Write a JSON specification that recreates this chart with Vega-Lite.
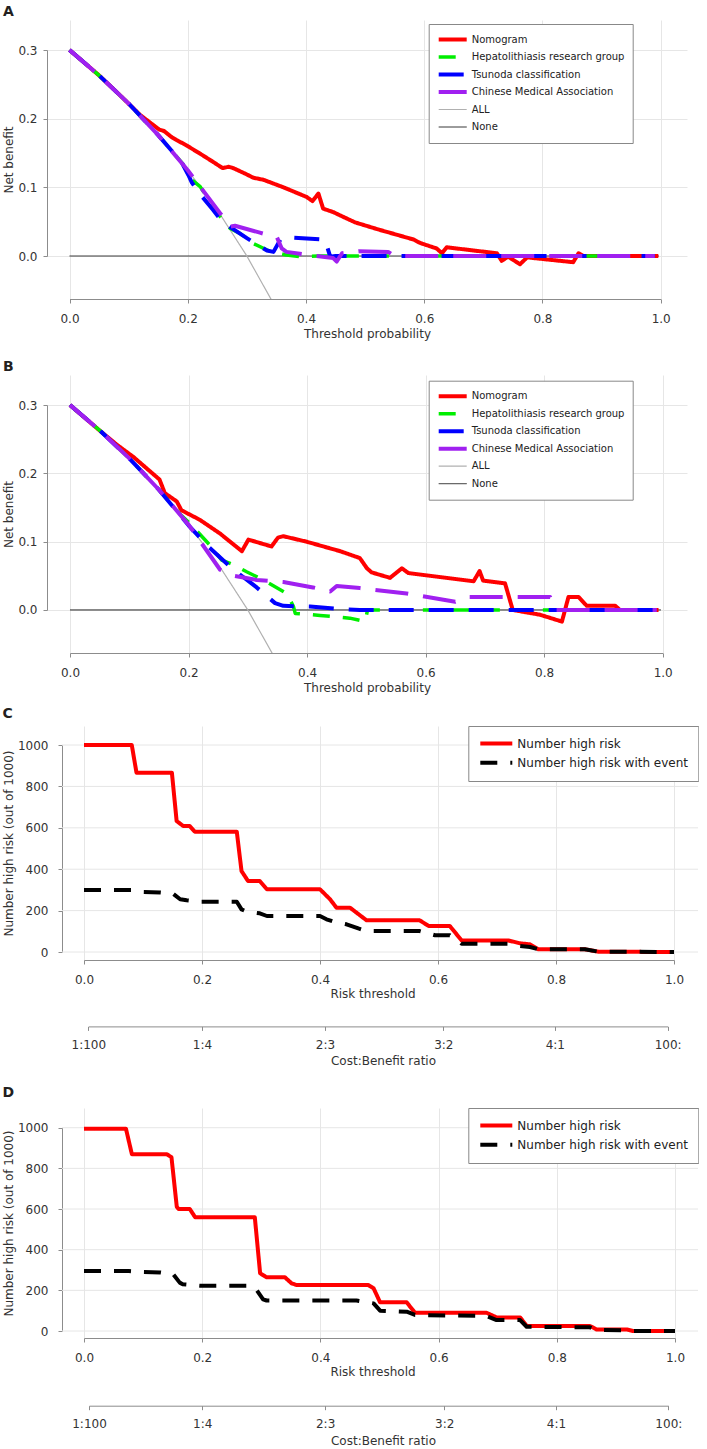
{
"$schema":"https://vega.github.io/schema/vega-lite/v6.json",
"padding":{"left":2,"top":5,"right":0,"bottom":0},
"background":"white",
"columns":1,
"align":"none",
"spacing":13,
"resolve":{"scale":{"color":"independent","strokeDash":"independent","strokeWidth":"independent"},"legend":{"color":"independent","strokeDash":"independent","strokeWidth":"independent"}},
"config":{
 "font":"DejaVu Sans",
 "view":{"stroke":null},
 "axis":{"labelFont":"DejaVu Sans","titleFont":"DejaVu Sans","labelFontSize":12,"titleFontSize":12,"titleFontWeight":"normal","labelColor":"#333","titleColor":"#333","domainColor":"#8c8c8c","tickColor":"#8c8c8c","tickSize":4,"gridColor":"#e6e6e6","gridWidth":1,"labelFlush":false,"labelOverlap":false},
 "legend":{"labelFont":"DejaVu Sans"},
 "title":{"fontSize":14,"fontWeight":"bold","anchor":"start","frame":"bounds","color":"#231f20","font":"DejaVu Sans"}
},
"datasets":{
"A":[
{"s":"None","x":0,"y":0},{"s":"None","x":0.997,"y":0},
{"s":"ALL","x":0,"y":0.3},{"s":"ALL","x":0.05,"y":0.263},{"s":"ALL","x":0.1,"y":0.222},{"s":"ALL","x":0.15,"y":0.176},{"s":"ALL","x":0.2,"y":0.125},{"s":"ALL","x":0.25,"y":0.067},{"s":"ALL","x":0.3,"y":0.0},{"s":"ALL","x":0.35,"y":-0.077},
{"s":"Nomogram","x":0,"y":0.3},{"s":"Nomogram","x":0.05,"y":0.263},{"s":"Nomogram","x":0.0855,"y":0.234},{"s":"Nomogram","x":0.12,"y":0.205},{"s":"Nomogram","x":0.152,"y":0.184},{"s":"Nomogram","x":0.16,"y":0.182},{"s":"Nomogram","x":0.173,"y":0.173},{"s":"Nomogram","x":0.181,"y":0.169},{"s":"Nomogram","x":0.198,"y":0.161},{"s":"Nomogram","x":0.221,"y":0.149},{"s":"Nomogram","x":0.243,"y":0.137},{"s":"Nomogram","x":0.259,"y":0.128},{"s":"Nomogram","x":0.269,"y":0.130},{"s":"Nomogram","x":0.277,"y":0.128},{"s":"Nomogram","x":0.297,"y":0.120},{"s":"Nomogram","x":0.311,"y":0.114},{"s":"Nomogram","x":0.328,"y":0.111},{"s":"Nomogram","x":0.362,"y":0.100},{"s":"Nomogram","x":0.401,"y":0.086},{"s":"Nomogram","x":0.411,"y":0.080},{"s":"Nomogram","x":0.421,"y":0.091},{"s":"Nomogram","x":0.429,"y":0.069},{"s":"Nomogram","x":0.446,"y":0.064},{"s":"Nomogram","x":0.463,"y":0.057},{"s":"Nomogram","x":0.483,"y":0.049},{"s":"Nomogram","x":0.525,"y":0.038},{"s":"Nomogram","x":0.582,"y":0.024},{"s":"Nomogram","x":0.593,"y":0.019},{"s":"Nomogram","x":0.621,"y":0.011},{"s":"Nomogram","x":0.630,"y":0.004},{"s":"Nomogram","x":0.638,"y":0.0127},{"s":"Nomogram","x":0.723,"y":0.004},{"s":"Nomogram","x":0.731,"y":-0.007},{"s":"Nomogram","x":0.742,"y":-0.001},{"s":"Nomogram","x":0.762,"y":-0.012},{"s":"Nomogram","x":0.774,"y":-0.002},{"s":"Nomogram","x":0.852,"y":-0.009},{"s":"Nomogram","x":0.861,"y":0.004},{"s":"Nomogram","x":0.869,"y":0.0},{"s":"Nomogram","x":0.996,"y":0.0},
{"s":"Hepatolithiasis research group","x":0,"y":0.3},{"s":"Hepatolithiasis research group","x":0.05,"y":0.263},{"s":"Hepatolithiasis research group","x":0.1,"y":0.222},{"s":"Hepatolithiasis research group","x":0.15,"y":0.176},{"s":"Hepatolithiasis research group","x":0.19,"y":0.136},{"s":"Hepatolithiasis research group","x":0.207,"y":0.111},{"s":"Hepatolithiasis research group","x":0.221,"y":0.101},{"s":"Hepatolithiasis research group","x":0.243,"y":0.072},{"s":"Hepatolithiasis research group","x":0.255,"y":0.057},{"s":"Hepatolithiasis research group","x":0.272,"y":0.040},{"s":"Hepatolithiasis research group","x":0.288,"y":0.033},{"s":"Hepatolithiasis research group","x":0.311,"y":0.018},{"s":"Hepatolithiasis research group","x":0.336,"y":0.008},{"s":"Hepatolithiasis research group","x":0.367,"y":0.0015},{"s":"Hepatolithiasis research group","x":0.39,"y":-0.001},{"s":"Hepatolithiasis research group","x":0.42,"y":0.0},{"s":"Hepatolithiasis research group","x":0.99,"y":0.0},
{"s":"Tsunoda classification","x":0,"y":0.3},{"s":"Tsunoda classification","x":0.05,"y":0.263},{"s":"Tsunoda classification","x":0.1,"y":0.222},{"s":"Tsunoda classification","x":0.15,"y":0.176},{"s":"Tsunoda classification","x":0.19,"y":0.136},{"s":"Tsunoda classification","x":0.201,"y":0.118},{"s":"Tsunoda classification","x":0.207,"y":0.107},{"s":"Tsunoda classification","x":0.221,"y":0.090},{"s":"Tsunoda classification","x":0.243,"y":0.067},{"s":"Tsunoda classification","x":0.258,"y":0.050},{"s":"Tsunoda classification","x":0.300,"y":0.026},{"s":"Tsunoda classification","x":0.334,"y":0.008},{"s":"Tsunoda classification","x":0.345,"y":0.006},{"s":"Tsunoda classification","x":0.358,"y":0.026},{"s":"Tsunoda classification","x":0.373,"y":0.027},{"s":"Tsunoda classification","x":0.432,"y":0.024},{"s":"Tsunoda classification","x":0.441,"y":-0.001},{"s":"Tsunoda classification","x":0.45,"y":0.0},{"s":"Tsunoda classification","x":0.99,"y":0.0},
{"s":"Chinese Medical Association","x":0,"y":0.3},{"s":"Chinese Medical Association","x":0.05,"y":0.263},{"s":"Chinese Medical Association","x":0.1,"y":0.222},{"s":"Chinese Medical Association","x":0.15,"y":0.176},{"s":"Chinese Medical Association","x":0.2,"y":0.125},{"s":"Chinese Medical Association","x":0.255,"y":0.062},{"s":"Chinese Medical Association","x":0.272,"y":0.043},{"s":"Chinese Medical Association","x":0.280,"y":0.044},{"s":"Chinese Medical Association","x":0.322,"y":0.034},{"s":"Chinese Medical Association","x":0.351,"y":0.027},{"s":"Chinese Medical Association","x":0.359,"y":0.011},{"s":"Chinese Medical Association","x":0.367,"y":0.006},{"s":"Chinese Medical Association","x":0.40,"y":0.002},{"s":"Chinese Medical Association","x":0.446,"y":-0.003},{"s":"Chinese Medical Association","x":0.452,"y":-0.008},{"s":"Chinese Medical Association","x":0.461,"y":0.004},{"s":"Chinese Medical Association","x":0.489,"y":0.007},{"s":"Chinese Medical Association","x":0.539,"y":0.006},{"s":"Chinese Medical Association","x":0.55,"y":0.0},{"s":"Chinese Medical Association","x":0.99,"y":0.0}
],
"B":[
{"s":"None","x":0,"y":0},{"s":"None","x":0.997,"y":0},
{"s":"ALL","x":0,"y":0.3},{"s":"ALL","x":0.05,"y":0.263},{"s":"ALL","x":0.1,"y":0.222},{"s":"ALL","x":0.15,"y":0.176},{"s":"ALL","x":0.2,"y":0.125},{"s":"ALL","x":0.25,"y":0.067},{"s":"ALL","x":0.3,"y":0.0},{"s":"ALL","x":0.35,"y":-0.077},
{"s":"Nomogram","x":0,"y":0.3},{"s":"Nomogram","x":0.051,"y":0.262},{"s":"Nomogram","x":0.079,"y":0.242},{"s":"Nomogram","x":0.107,"y":0.224},{"s":"Nomogram","x":0.151,"y":0.191},{"s":"Nomogram","x":0.160,"y":0.171},{"s":"Nomogram","x":0.180,"y":0.159},{"s":"Nomogram","x":0.188,"y":0.146},{"s":"Nomogram","x":0.219,"y":0.132},{"s":"Nomogram","x":0.253,"y":0.112},{"s":"Nomogram","x":0.290,"y":0.086},{"s":"Nomogram","x":0.301,"y":0.103},{"s":"Nomogram","x":0.340,"y":0.093},{"s":"Nomogram","x":0.351,"y":0.106},{"s":"Nomogram","x":0.360,"y":0.108},{"s":"Nomogram","x":0.399,"y":0.100},{"s":"Nomogram","x":0.456,"y":0.086},{"s":"Nomogram","x":0.489,"y":0.076},{"s":"Nomogram","x":0.501,"y":0.061},{"s":"Nomogram","x":0.509,"y":0.055},{"s":"Nomogram","x":0.540,"y":0.047},{"s":"Nomogram","x":0.560,"y":0.061},{"s":"Nomogram","x":0.571,"y":0.054},{"s":"Nomogram","x":0.681,"y":0.042},{"s":"Nomogram","x":0.691,"y":0.057},{"s":"Nomogram","x":0.697,"y":0.043},{"s":"Nomogram","x":0.734,"y":0.039},{"s":"Nomogram","x":0.747,"y":0.0},{"s":"Nomogram","x":0.793,"y":-0.007},{"s":"Nomogram","x":0.830,"y":-0.017},{"s":"Nomogram","x":0.841,"y":0.019},{"s":"Nomogram","x":0.858,"y":0.019},{"s":"Nomogram","x":0.872,"y":0.006},{"s":"Nomogram","x":0.920,"y":0.006},{"s":"Nomogram","x":0.928,"y":0.0},{"s":"Nomogram","x":0.993,"y":0.0},
{"s":"Hepatolithiasis research group","x":0,"y":0.3},{"s":"Hepatolithiasis research group","x":0.05,"y":0.263},{"s":"Hepatolithiasis research group","x":0.1,"y":0.222},{"s":"Hepatolithiasis research group","x":0.15,"y":0.176},{"s":"Hepatolithiasis research group","x":0.186,"y":0.140},{"s":"Hepatolithiasis research group","x":0.202,"y":0.127},{"s":"Hepatolithiasis research group","x":0.236,"y":0.095},{"s":"Hepatolithiasis research group","x":0.256,"y":0.073},{"s":"Hepatolithiasis research group","x":0.276,"y":0.066},{"s":"Hepatolithiasis research group","x":0.298,"y":0.056},{"s":"Hepatolithiasis research group","x":0.326,"y":0.044},{"s":"Hepatolithiasis research group","x":0.366,"y":0.024},{"s":"Hepatolithiasis research group","x":0.377,"y":0.005},{"s":"Hepatolithiasis research group","x":0.380,"y":-0.005},{"s":"Hepatolithiasis research group","x":0.394,"y":-0.006},{"s":"Hepatolithiasis research group","x":0.422,"y":-0.008},{"s":"Hepatolithiasis research group","x":0.472,"y":-0.012},{"s":"Hepatolithiasis research group","x":0.498,"y":-0.017},{"s":"Hepatolithiasis research group","x":0.502,"y":0.0},{"s":"Hepatolithiasis research group","x":0.99,"y":0.0},
{"s":"Tsunoda classification","x":0,"y":0.3},{"s":"Tsunoda classification","x":0.05,"y":0.263},{"s":"Tsunoda classification","x":0.1,"y":0.222},{"s":"Tsunoda classification","x":0.15,"y":0.176},{"s":"Tsunoda classification","x":0.2,"y":0.124},{"s":"Tsunoda classification","x":0.233,"y":0.093},{"s":"Tsunoda classification","x":0.267,"y":0.066},{"s":"Tsunoda classification","x":0.276,"y":0.059},{"s":"Tsunoda classification","x":0.315,"y":0.033},{"s":"Tsunoda classification","x":0.346,"y":0.010},{"s":"Tsunoda classification","x":0.36,"y":0.006},{"s":"Tsunoda classification","x":0.405,"y":0.005},{"s":"Tsunoda classification","x":0.453,"y":0.0015},{"s":"Tsunoda classification","x":0.489,"y":0.0},{"s":"Tsunoda classification","x":0.99,"y":0.0},
{"s":"Chinese Medical Association","x":0,"y":0.3},{"s":"Chinese Medical Association","x":0.05,"y":0.263},{"s":"Chinese Medical Association","x":0.1,"y":0.222},{"s":"Chinese Medical Association","x":0.15,"y":0.176},{"s":"Chinese Medical Association","x":0.2,"y":0.125},{"s":"Chinese Medical Association","x":0.253,"y":0.059},{"s":"Chinese Medical Association","x":0.276,"y":0.050},{"s":"Chinese Medical Association","x":0.315,"y":0.044},{"s":"Chinese Medical Association","x":0.360,"y":0.041},{"s":"Chinese Medical Association","x":0.410,"y":0.033},{"s":"Chinese Medical Association","x":0.439,"y":0.027},{"s":"Chinese Medical Association","x":0.450,"y":0.035},{"s":"Chinese Medical Association","x":0.489,"y":0.032},{"s":"Chinese Medical Association","x":0.568,"y":0.024},{"s":"Chinese Medical Association","x":0.650,"y":0.012},{"s":"Chinese Medical Association","x":0.672,"y":0.019},{"s":"Chinese Medical Association","x":0.810,"y":0.019},{"s":"Chinese Medical Association","x":0.818,"y":0.0},{"s":"Chinese Medical Association","x":0.99,"y":0.0}
],
"C":[
{"s":"Number high risk","x":0,"y":1000},{"s":"Number high risk","x":0.081,"y":1000},{"s":"Number high risk","x":0.089,"y":866},{"s":"Number high risk","x":0.149,"y":866},{"s":"Number high risk","x":0.157,"y":633},{"s":"Number high risk","x":0.168,"y":609},{"s":"Number high risk","x":0.179,"y":609},{"s":"Number high risk","x":0.188,"y":581},{"s":"Number high risk","x":0.259,"y":581},{"s":"Number high risk","x":0.267,"y":391},{"s":"Number high risk","x":0.278,"y":343},{"s":"Number high risk","x":0.298,"y":343},{"s":"Number high risk","x":0.310,"y":303},{"s":"Number high risk","x":0.400,"y":303},{"s":"Number high risk","x":0.417,"y":255},{"s":"Number high risk","x":0.428,"y":214},{"s":"Number high risk","x":0.451,"y":214},{"s":"Number high risk","x":0.479,"y":153},{"s":"Number high risk","x":0.569,"y":153},{"s":"Number high risk","x":0.584,"y":126},{"s":"Number high risk","x":0.620,"y":126},{"s":"Number high risk","x":0.640,"y":56},{"s":"Number high risk","x":0.719,"y":56},{"s":"Number high risk","x":0.739,"y":42},{"s":"Number high risk","x":0.756,"y":37},{"s":"Number high risk","x":0.770,"y":13},{"s":"Number high risk","x":0.849,"y":13},{"s":"Number high risk","x":0.872,"y":1.5},{"s":"Number high risk","x":1.0,"y":0},
{"s":"Number high risk with event","x":0,"y":300},{"s":"Number high risk with event","x":0.08,"y":300},{"s":"Number high risk with event","x":0.1,"y":290},{"s":"Number high risk with event","x":0.129,"y":288},{"s":"Number high risk with event","x":0.151,"y":282},{"s":"Number high risk with event","x":0.163,"y":255},{"s":"Number high risk with event","x":0.174,"y":250},{"s":"Number high risk with event","x":0.197,"y":243},{"s":"Number high risk with event","x":0.259,"y":243},{"s":"Number high risk with event","x":0.267,"y":206},{"s":"Number high risk with event","x":0.276,"y":195},{"s":"Number high risk with event","x":0.298,"y":187},{"s":"Number high risk with event","x":0.310,"y":174},{"s":"Number high risk with event","x":0.400,"y":174},{"s":"Number high risk with event","x":0.411,"y":158},{"s":"Number high risk with event","x":0.425,"y":145},{"s":"Number high risk with event","x":0.445,"y":134},{"s":"Number high risk with event","x":0.465,"y":114},{"s":"Number high risk with event","x":0.479,"y":101},{"s":"Number high risk with event","x":0.569,"y":101},{"s":"Number high risk with event","x":0.595,"y":81},{"s":"Number high risk with event","x":0.620,"y":81},{"s":"Number high risk with event","x":0.640,"y":40},{"s":"Number high risk with event","x":0.719,"y":40},{"s":"Number high risk with event","x":0.739,"y":29},{"s":"Number high risk with event","x":0.756,"y":24},{"s":"Number high risk with event","x":0.770,"y":13},{"s":"Number high risk with event","x":0.849,"y":13},{"s":"Number high risk with event","x":0.872,"y":1.5},{"s":"Number high risk with event","x":1.0,"y":0}
],
"D":[
{"s":"Number high risk","x":0,"y":995},{"s":"Number high risk","x":0.071,"y":995},{"s":"Number high risk","x":0.081,"y":870},{"s":"Number high risk","x":0.140,"y":870},{"s":"Number high risk","x":0.148,"y":855},{"s":"Number high risk","x":0.157,"y":611},{"s":"Number high risk","x":0.160,"y":600},{"s":"Number high risk","x":0.179,"y":600},{"s":"Number high risk","x":0.188,"y":560},{"s":"Number high risk","x":0.289,"y":560},{"s":"Number high risk","x":0.298,"y":284},{"s":"Number high risk","x":0.309,"y":264},{"s":"Number high risk","x":0.340,"y":264},{"s":"Number high risk","x":0.351,"y":235},{"s":"Number high risk","x":0.360,"y":226},{"s":"Number high risk","x":0.481,"y":226},{"s":"Number high risk","x":0.490,"y":210},{"s":"Number high risk","x":0.501,"y":141},{"s":"Number high risk","x":0.546,"y":141},{"s":"Number high risk","x":0.560,"y":90},{"s":"Number high risk","x":0.681,"y":90},{"s":"Number high risk","x":0.698,"y":67},{"s":"Number high risk","x":0.738,"y":67},{"s":"Number high risk","x":0.749,"y":25},{"s":"Number high risk","x":0.856,"y":25},{"s":"Number high risk","x":0.867,"y":8},{"s":"Number high risk","x":0.918,"y":8},{"s":"Number high risk","x":0.929,"y":0},{"s":"Number high risk","x":1.0,"y":0},
{"s":"Number high risk with event","x":0,"y":295},{"s":"Number high risk with event","x":0.076,"y":295},{"s":"Number high risk with event","x":0.100,"y":290},{"s":"Number high risk with event","x":0.129,"y":288},{"s":"Number high risk with event","x":0.151,"y":279},{"s":"Number high risk with event","x":0.162,"y":238},{"s":"Number high risk with event","x":0.167,"y":230},{"s":"Number high risk with event","x":0.196,"y":223},{"s":"Number high risk with event","x":0.285,"y":223},{"s":"Number high risk with event","x":0.290,"y":210},{"s":"Number high risk with event","x":0.303,"y":156},{"s":"Number high risk with event","x":0.309,"y":150},{"s":"Number high risk with event","x":0.461,"y":150},{"s":"Number high risk with event","x":0.490,"y":136},{"s":"Number high risk with event","x":0.501,"y":100},{"s":"Number high risk with event","x":0.546,"y":95},{"s":"Number high risk with event","x":0.560,"y":79},{"s":"Number high risk with event","x":0.681,"y":74},{"s":"Number high risk with event","x":0.698,"y":54},{"s":"Number high risk with event","x":0.738,"y":54},{"s":"Number high risk with event","x":0.749,"y":21},{"s":"Number high risk with event","x":0.856,"y":18},{"s":"Number high risk with event","x":0.867,"y":5},{"s":"Number high risk with event","x":0.918,"y":3},{"s":"Number high risk with event","x":0.929,"y":0},{"s":"Number high risk with event","x":1.0,"y":0}
],
"G":[{"g":0},{"g":200},{"g":400},{"g":600},{"g":800},{"g":1000}],
"CBC":[{"cb":0.0073,"ratio":"1:100"},{"cb":0.2,"ratio":"1:4"},{"cb":0.4085,"ratio":"2:3"},{"cb":0.609,"ratio":"3:2"},{"cb":0.798,"ratio":"4:1"},{"cb":0.9893,"ratio":"100:"}],
"CBD":[{"cb":0.0085,"ratio":"1:100"},{"cb":0.2,"ratio":"1:4"},{"cb":0.408,"ratio":"2:3"},{"cb":0.6096,"ratio":"3:2"},{"cb":0.7986,"ratio":"4:1"},{"cb":0.9887,"ratio":"100:"}]
},
"concat":[
{
 "title":{"text":"A","offset":1},
 "width":640,"height":279,
 "data":{"name":"A"},
 "mark":{"type":"line","clip":true,"strokeCap":"butt","strokeJoin":"round"},
 "encoding":{
  "x":{"field":"x","type":"quantitative","scale":{"domain":[-0.0381,1.0445],"nice":false,"zero":false},"axis":{"values":[0,0.2,0.4,0.6,0.8,1],"format":".1f","grid":true,"title":["Threshold probability"," "],"titleLineHeight":8,"domainDash":[0,22.5,591.2,2000],"labelPadding":10,"titlePadding":4}},
  "y":{"field":"y","type":"quantitative","scale":{"domain":[-0.0626,0.3437],"nice":false,"zero":false},"axis":{"values":[0,0.1,0.2,0.3],"format":".1f","grid":true,"title":"Net benefit","domainDash":[0,43,206,2000],"labelPadding":6,"titlePadding":2}},
  "color":{"field":"s","type":"nominal","scale":{"domain":["Nomogram","Hepatolithiasis research group","Tsunoda classification","Chinese Medical Association","ALL","None"],"range":["#ff0000","#00ee00","#0000ff","#a020f0","#b0b0b0","#222222"]},"legend":{"orient":"none","legendX":381.7,"legendY":4,"title":null,"symbolType":"stroke","symbolSize":784,"labelFontSize":10,"labelColor":"#222","fillColor":"white","strokeColor":"#888","padding":8,"clipHeight":15,"rowPadding":2.5,"labelOffset":3,"labelLimit":400}},
  "strokeDash":{"field":"s","type":"nominal","scale":{"domain":["Nomogram","Hepatolithiasis research group","Tsunoda classification","Chinese Medical Association","ALL","None"],"range":[[1,0],[17,13],[25,15],[33,15],[1,0],[1,0]]}},
  "strokeWidth":{"field":"s","type":"nominal","scale":{"type":"ordinal","domain":["Nomogram","Hepatolithiasis research group","Tsunoda classification","Chinese Medical Association","ALL","None"],"range":[4,3.5,4,4,1.2,1]}}
 }
},
{
 "title":{"text":"B","offset":1},
 "width":640,"height":278,
 "data":{"name":"B"},
 "mark":{"type":"line","clip":true,"strokeCap":"butt","strokeJoin":"round"},
 "encoding":{
  "x":{"field":"x","type":"quantitative","scale":{"domain":[-0.0388,1.041],"nice":false,"zero":false},"axis":{"values":[0,0.2,0.4,0.6,0.8,1],"format":".1f","grid":true,"title":"Threshold probability","domainDash":[0,23,592.7,2000],"labelPadding":10,"titlePadding":4}},
  "y":{"field":"y","type":"quantitative","scale":{"domain":[-0.063,0.344],"nice":false,"zero":false},"axis":{"values":[0,0.1,0.2,0.3],"format":".1f","grid":true,"title":"Net benefit","domainDash":[0,43,205,2000],"labelPadding":6,"titlePadding":2}},
  "color":{"field":"s","type":"nominal","scale":{"domain":["Nomogram","Hepatolithiasis research group","Tsunoda classification","Chinese Medical Association","ALL","None"],"range":["#ff0000","#00ee00","#0000ff","#a020f0","#b0b0b0","#222222"]},"legend":{"orient":"none","legendX":381.7,"legendY":5.7,"title":null,"symbolType":"stroke","symbolSize":784,"labelFontSize":10,"labelColor":"#222","fillColor":"white","strokeColor":"#888","padding":8,"clipHeight":15,"rowPadding":2.5,"labelOffset":3,"labelLimit":400}},
  "strokeDash":{"field":"s","type":"nominal","scale":{"domain":["Nomogram","Hepatolithiasis research group","Tsunoda classification","Chinese Medical Association","ALL","None"],"range":[[1,0],[17,13],[25,15],[33,15],[1,0],[1,0]]}},
  "strokeWidth":{"field":"s","type":"nominal","scale":{"type":"ordinal","domain":["Nomogram","Hepatolithiasis research group","Tsunoda classification","Chinese Medical Association","ALL","None"],"range":[4,3.5,4,4,1.2,1]}}
 }
},
{
 "title":{"text":"C","offset":5},
 "width":651,"height":234,
 "layer":[
  {
   "data":{"name":"G"},
   "mark":{"type":"rule","color":"#e6e6e6","strokeWidth":1},
   "encoding":{
    "y":{"field":"g","type":"quantitative"},
    "x":{"datum":-0.0373,"type":"quantitative","scale":{"domain":[-0.0627,1.0407],"nice":false,"zero":false},"axis":null},
    "x2":{"datum":1.0407}
   }
  },
  {
   "data":{"name":"C"},
   "mark":{"type":"line","clip":true,"strokeCap":"butt","strokeJoin":"round"},
   "encoding":{
    "x":{"field":"x","type":"quantitative","scale":{"domain":[-0.0627,1.0407],"nice":false,"zero":false},"axis":{"values":[0,0.2,0.4,0.6,0.8,1],"format":".1f","grid":true,"title":"Risk threshold","domainDash":[0,37,590,2000],"labelPadding":10,"titlePadding":3.5}},
    "y":{"field":"y","type":"quantitative","scale":{"domain":[-38.6,1092],"nice":false,"zero":false},"axis":{"values":[0,200,400,600,800,1000],"format":"d","grid":false,"offset":-15,"title":"Number high risk (out of 1000)","domainDash":[0,8,207,2000],"labelPadding":10,"titlePadding":2}},
    "color":{"field":"s","type":"nominal","scale":{"domain":["Number high risk","Number high risk with event"],"range":["#ff0000","#000000"]},"legend":{"orient":"none","legendX":421.3,"legendY":0,"title":null,"symbolType":"stroke","symbolSize":1024,"labelFontSize":12,"labelColor":"#222","fillColor":"white","strokeColor":"#888","padding":10,"clipHeight":15,"rowPadding":4.3,"labelOffset":3,"labelLimit":400,"encode":{"symbols":{"update":{"strokeDash":{"signal":"datum.value === 'Number high risk with event' ? [6,4] : [1,0]"}}}}}},
    "strokeDash":{"field":"s","type":"nominal","scale":{"domain":["Number high risk","Number high risk with event"],"range":[[1,0],[17,13]]}},
    "strokeWidth":{"field":"s","type":"nominal","scale":{"type":"ordinal","domain":["Number high risk","Number high risk with event"],"range":[4,4]}}
   }
  },
  {
   "data":{"name":"CBC"},
   "mark":{"type":"point","opacity":0},
   "encoding":{
    "x":{"field":"cb","type":"quantitative","scale":{"domain":[-0.0627,1.0407],"nice":false,"zero":false},"axis":{"orient":"bottom","offset":66.4,"values":[0.0073,0.2,0.4085,0.609,0.798,0.9893],"labelExpr":"datum.value < 0.1 ? '1:100' : datum.value < 0.3 ? '1:4' : datum.value < 0.5 ? '2:3' : datum.value < 0.7 ? '3:2' : datum.value < 0.9 ? '4:1' : '100:'","grid":false,"title":["Cost:Benefit ratio"," "],"titleLineHeight":5,"titleX":336,"domainDash":[0,41.3,579.4,2000],"labelPadding":9,"titlePadding":5.5}}
   }
  }
 ],
 "resolve":{"scale":{"x":"independent"},"axis":{"x":"independent"}}
},
{
 "title":{"text":"D","offset":8},
 "width":651,"height":230,
 "layer":[
  {
   "data":{"name":"G"},
   "mark":{"type":"rule","color":"#e6e6e6","strokeWidth":1},
   "encoding":{
    "y":{"field":"g","type":"quantitative"},
    "x":{"datum":-0.0372,"type":"quantitative","scale":{"domain":[-0.0626,1.0389],"nice":false,"zero":false},"axis":null},
    "x2":{"datum":1.0389}
   }
  },
  {
   "data":{"name":"D"},
   "mark":{"type":"line","clip":true,"strokeCap":"butt","strokeJoin":"round"},
   "encoding":{
    "x":{"field":"x","type":"quantitative","scale":{"domain":[-0.0626,1.0389],"nice":false,"zero":false},"axis":{"values":[0,0.2,0.4,0.6,0.8,1],"format":".1f","grid":true,"title":"Risk threshold","domainDash":[0,37,591,2000],"labelPadding":10,"titlePadding":3.5}},
    "y":{"field":"y","type":"quantitative","scale":{"domain":[-34.4,1097],"nice":false,"zero":false},"axis":{"values":[0,200,400,600,800,1000],"format":"d","grid":false,"offset":-15,"title":"Number high risk (out of 1000)","domainDash":[0,7,203.3,2000],"labelPadding":10,"titlePadding":2}},
    "color":{"field":"s","type":"nominal","scale":{"domain":["Number high risk","Number high risk with event"],"range":["#ff0000","#000000"]},"legend":{"orient":"none","legendX":421.3,"legendY":0,"title":null,"symbolType":"stroke","symbolSize":1024,"labelFontSize":12,"labelColor":"#222","fillColor":"white","strokeColor":"#888","padding":10,"clipHeight":15,"rowPadding":4.3,"labelOffset":3,"labelLimit":400,"encode":{"symbols":{"update":{"strokeDash":{"signal":"datum.value === 'Number high risk with event' ? [6,4] : [1,0]"}}}}}},
    "strokeDash":{"field":"s","type":"nominal","scale":{"domain":["Number high risk","Number high risk with event"],"range":[[1,0],[17,13]]}},
    "strokeWidth":{"field":"s","type":"nominal","scale":{"type":"ordinal","domain":["Number high risk","Number high risk with event"],"range":[4,4]}}
   }
  },
  {
   "data":{"name":"CBD"},
   "mark":{"type":"point","opacity":0},
   "encoding":{
    "x":{"field":"cb","type":"quantitative","scale":{"domain":[-0.0626,1.0389],"nice":false,"zero":false},"axis":{"orient":"bottom","offset":67.7,"values":[0.0085,0.2,0.408,0.6096,0.7986,0.9887],"labelExpr":"datum.value < 0.1 ? '1:100' : datum.value < 0.3 ? '1:4' : datum.value < 0.5 ? '2:3' : datum.value < 0.7 ? '3:2' : datum.value < 0.9 ? '4:1' : '100:'","grid":false,"title":"Cost:Benefit ratio","titleX":336,"domainDash":[0,42,579.3,2000],"labelPadding":9,"titlePadding":5.5}}
   }
  }
 ],
 "resolve":{"scale":{"x":"independent"},"axis":{"x":"independent"}}
}
]
}
